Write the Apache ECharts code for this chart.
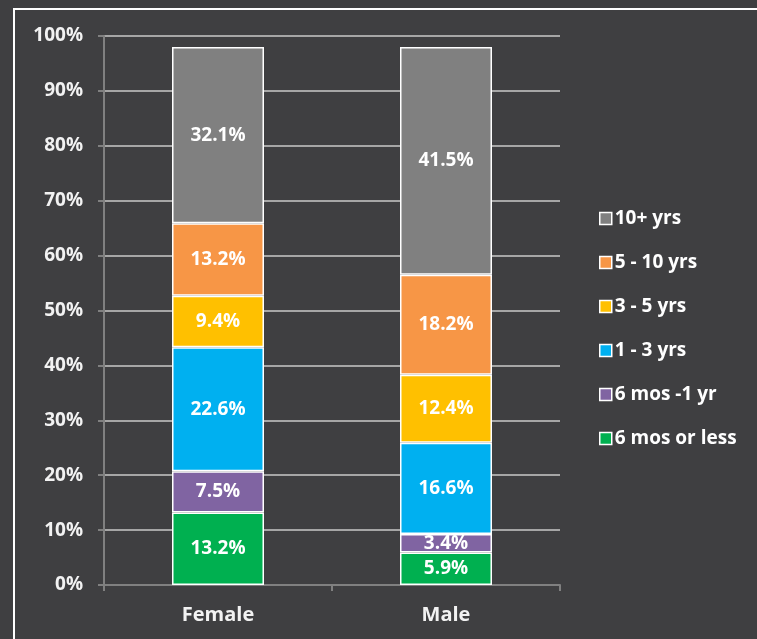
<!DOCTYPE html>
<html>
<head>
<meta charset="utf-8">
<script src="https://cdn.jsdelivr.net/npm/echarts@6/dist/echarts.min.js"></script>
<style>
  html, body { margin: 0; padding: 0; background: #3f3f41; }
  #main { width: 757px; height: 639px; }
</style>
</head>
<body>
<div id="main"></div>
<script>
// data (percent of respondents)
var categories = ['Female', 'Male'];
var seriesNames = ['6 mos or less', '6 mos -1 yr', '1 - 3 yrs', '3 - 5 yrs', '5 - 10 yrs', '10+ yrs'];
var lessThan6mo = [13.2, 5.9];
var mo6to1yr = [7.5, 3.4];
var yr1to3 = [22.6, 16.6];
var yr3to5 = [9.4, 12.4];
var yr5to10 = [13.2, 18.2];
var yr10plus = [32.1, 41.5];
var colors = ['#00b050', '#8064a2', '#00b0f0', '#ffc000', '#f79646', '#808080'];

var allValues = [lessThan6mo, mo6to1yr, yr1to3, yr3to5, yr5to10, yr10plus];
var font = '"Open Sans", sans-serif';

var series = seriesNames.map(function (name, i) {
  return {
    name: name,
    type: 'bar',
    stack: 'total',
    barWidth: 92,
    data: allValues[i],
    itemStyle: { color: colors[i], borderColor: '#ffffff', borderWidth: 1.5 },
    label: {
      show: true,
      position: 'inside',
      formatter: function (p) { return p.value.toFixed(1) + '%'; },
      color: '#ffffff',
      fontFamily: font,
      fontWeight: 'bold',
      fontSize: 19
    }
  };
});

var chart = echarts.init(document.getElementById('main'));
chart.setOption({
  backgroundColor: '#3f3f41',
  animation: false,
  graphic: [{
    type: 'rect',
    shape: { x: 14, y: 9, width: 760, height: 660 },
    style: { fill: 'none', stroke: '#ffffff', lineWidth: 2 },
    silent: true
  }],
  grid: { left: 104, top: 36, right: 197, bottom: 54 },
  legend: {
    orient: 'vertical',
    left: 594,
    top: 204,
    itemGap: 25,
    itemWidth: 12,
    itemHeight: 12,
    icon: 'rect',
    data: seriesNames.slice().reverse(),
    itemStyle: { borderColor: '#ffffff', borderWidth: 1.5 },
    textStyle: { color: '#ffffff', fontFamily: font, fontWeight: 'bold', fontSize: 19, padding: [0, 0, 0, -2] }
  },
  xAxis: {
    type: 'category',
    data: categories,
    axisLine: { lineStyle: { color: '#808080', width: 2 } },
    axisTick: { show: true, length: 6, lineStyle: { color: '#808080', width: 2 } },
    axisLabel: { color: '#f2f2f2', fontFamily: font, fontWeight: 'bold', fontSize: 20, margin: 20 }
  },
  yAxis: {
    type: 'value',
    min: 0,
    max: 100,
    interval: 10,
    axisLine: { show: true, lineStyle: { color: '#808080', width: 2 } },
    axisTick: { show: true, length: 6, lineStyle: { color: '#808080', width: 2 } },
    splitLine: { lineStyle: { color: '#a6a6a6', width: 2 } },
    axisLabel: {
      color: '#f2f2f2', fontFamily: font, fontWeight: 'bold', fontSize: 19, margin: 21,
      formatter: '{value}%'
    }
  },
  series: series
});
</script>
</body>
</html>
